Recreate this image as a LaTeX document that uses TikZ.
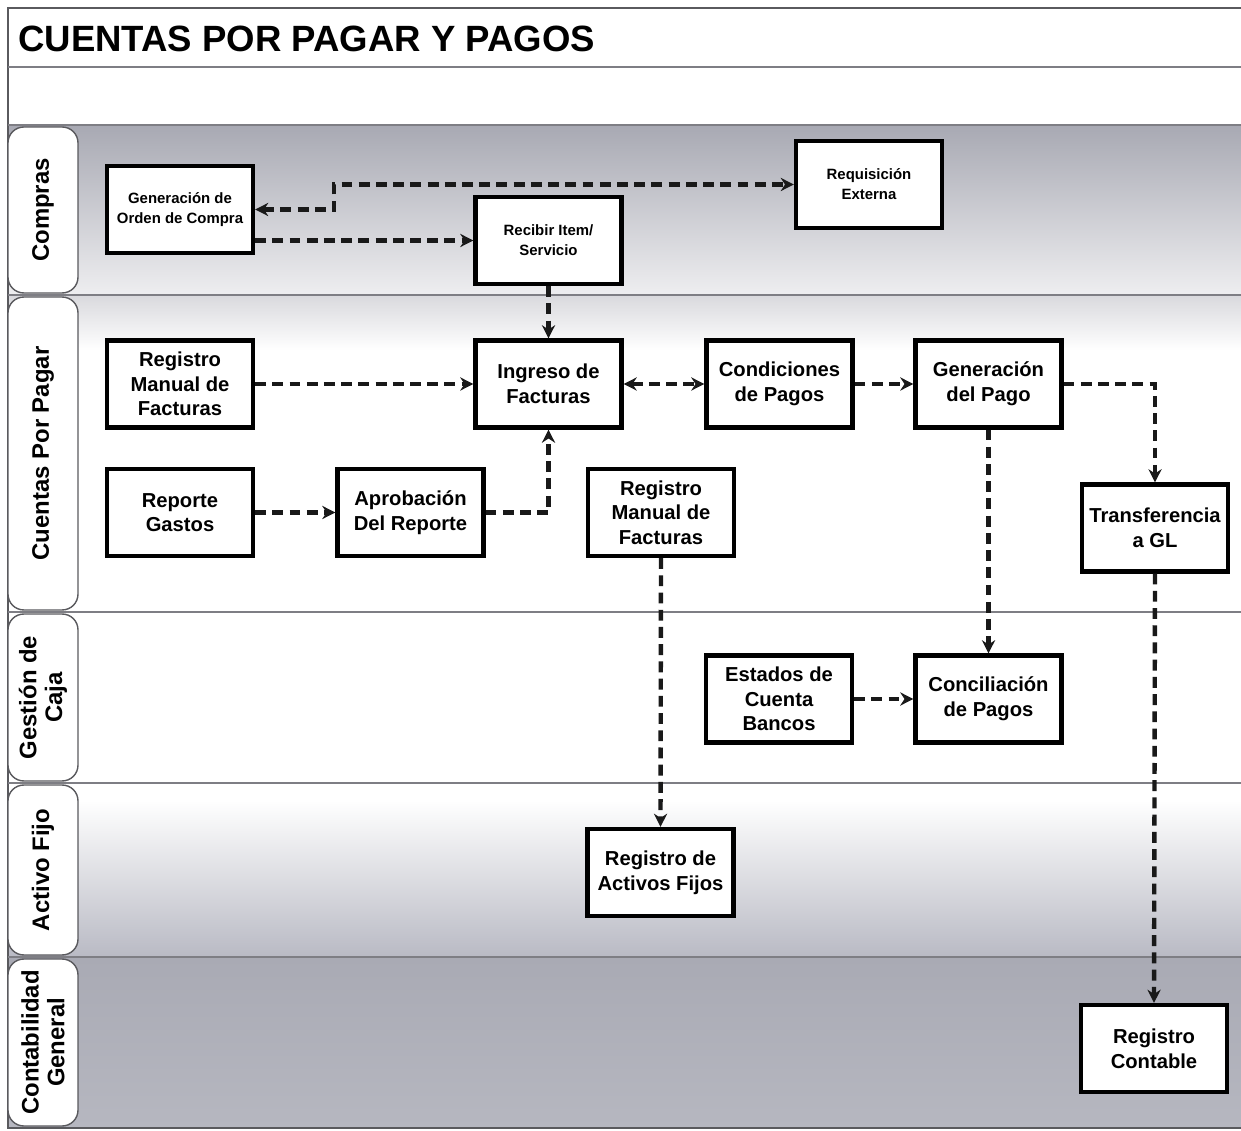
\documentclass[tikz,border=0pt]{standalone}
\usepackage{fontspec}
\setmainfont{Liberation Sans}
\usepackage{xcolor}
\usepackage{tikz}
\definecolor{framegray}{HTML}{5A5A5E}
\definecolor{sepgray}{HTML}{7E7E84}
\definecolor{cmptop}{HTML}{A8A9B3}
\definecolor{cmpbot}{HTML}{EEEEF0}
\definecolor{cxptop}{HTML}{D9D9DD}
\definecolor{afbot}{HTML}{B9BAC4}
\definecolor{cgtop}{HTML}{A9AAB4}
\definecolor{cgbot}{HTML}{B6B7C0}
\tikzset{
  proc/.style={draw=black, line width=2.4pt, fill=white, minimum width=2.92cm, minimum height=1.74cm,
    align=center, inner sep=1pt, font=\fontsize{11.5}{14}\selectfont\bfseries},
  procsm/.style={proc, font=\fontsize{8.5}{11.3}\selectfont\bfseries},
  flow/.style={draw=black!90, line width=2.5pt, dash pattern=on 6.2pt off 3.6pt, ->},
  lanebox/.style={draw=framegray, line width=0.8pt, fill=white, rounded corners=9pt, rotate=90,
    minimum height=1.4cm, align=center, inner sep=1pt, font=\fontsize{13.6}{14.7}\selectfont\bfseries},
  sep/.style={draw=sepgray, line width=1pt},
  ttl/.style={font=\fontsize{20.8}{24}\selectfont\bfseries, inner sep=0pt},
}
\usetikzlibrary{arrows.meta}

\begin{document}
\begin{tikzpicture}[x=0.02cm, y=-0.02cm, >={Stealth[length=7.5pt,width=7.5pt]}]
  \useasboundingbox (0,0) rectangle (1241,1131);

  \shade[top color=cmptop, bottom color=cmpbot] (8,125) rectangle (1241,295);
  \shade[top color=cxptop, bottom color=white] (8,295) rectangle (1241,350);
  \shade[top color=white, bottom color=afbot] (8,800) rectangle (1241,957);
  \shade[top color=cgtop, bottom color=cgbot] (8,957) rectangle (1241,1128);

  \draw[framegray, line width=1.2pt] (1241,8) -- (8,8) -- (8,1128) -- (1241,1128);
  \draw[sep] (8,67) -- (1241,67);
  \foreach \y in {125,295,612,783,957}
    \draw[sep] (8,\y) -- (1241,\y);

  \node[ttl, anchor=base west] (titulo) at (18,52) {CUENTAS POR PAGAR Y PAGOS};

  \node[lanebox, minimum width=3.32cm] (lcompras) at (43,210) {Compras};
  \node[lanebox, minimum width=6.26cm] (lcxp) at (43,453.5) {Cuentas Por Pagar};
  \node[lanebox, minimum width=3.34cm] (lcaja) at (43,697.5) {Gestión de\\Caja};
  \node[lanebox, minimum width=3.40cm] (lactivo) at (43,870) {Activo Fijo};
  \node[lanebox, minimum width=3.34cm] (lconta) at (43,1042.5) {Contabilidad\\General};

  \node[procsm] (genoc) at (180,209.5) {Generación de\\Orden de Compra};
  \node[procsm] (req) at (869,184.5) {Requisición\\Externa};
  \node[procsm] (recibir) at (548.5,240.5) {Recibir Item/\\Servicio};
  \node[proc] (regman1) at (180,384) {Registro\\Manual de\\Facturas};
  \node[proc] (ingreso) at (548.5,384) {Ingreso de\\Facturas};
  \node[proc] (cond) at (779.5,384) {Condiciones\\de Pagos};
  \node[proc] (genpago) at (988.5,384) {Generación\\del Pago};
  \node[proc] (repgas) at (180,512.5) {Reporte\\Gastos};
  \node[proc] (aprob) at (410.5,512.5) {Aprobación\\Del Reporte};
  \node[proc] (regman2) at (661,512.5) {Registro\\Manual de\\Facturas};
  \node[proc] (transf) at (1155,528) {Transferencia\\a GL};
  \node[proc] (estados) at (779,699) {Estados de\\Cuenta\\Bancos};
  \node[proc] (concil) at (988.5,699) {Conciliación\\de Pagos};
  \node[proc] (regact) at (660.5,872.5) {Registro de\\Activos Fijos};
  \node[proc] (regcont) at (1154,1048.5) {Registro\\Contable};

  \draw[flow, <->] (genoc.east) -- ++(79,0) |- (req.west);
  \draw[flow] (genoc.east |- recibir.west) -- (recibir.west);
  \draw[flow] (recibir.south) -- (ingreso.north);
  \draw[flow] (regman1.east) -- (ingreso.west);
  \draw[flow, <->] (ingreso.east) -- (cond.west);
  \draw[flow] (cond.east) -- (genpago.west);
  \draw[flow] (genpago.east) -| (transf.north);
  \draw[flow] (genpago.south) -- (concil.north);
  \draw[flow] (repgas.east) -- (aprob.west);
  \draw[flow] (aprob.east) -| (ingreso.south);
  \draw[flow] (regman2.south) -- (regact.north);
  \draw[flow] (estados.east) -- (concil.west);
  \draw[flow] (transf.south) -- (regcont.north);

\end{tikzpicture}
\end{document}
